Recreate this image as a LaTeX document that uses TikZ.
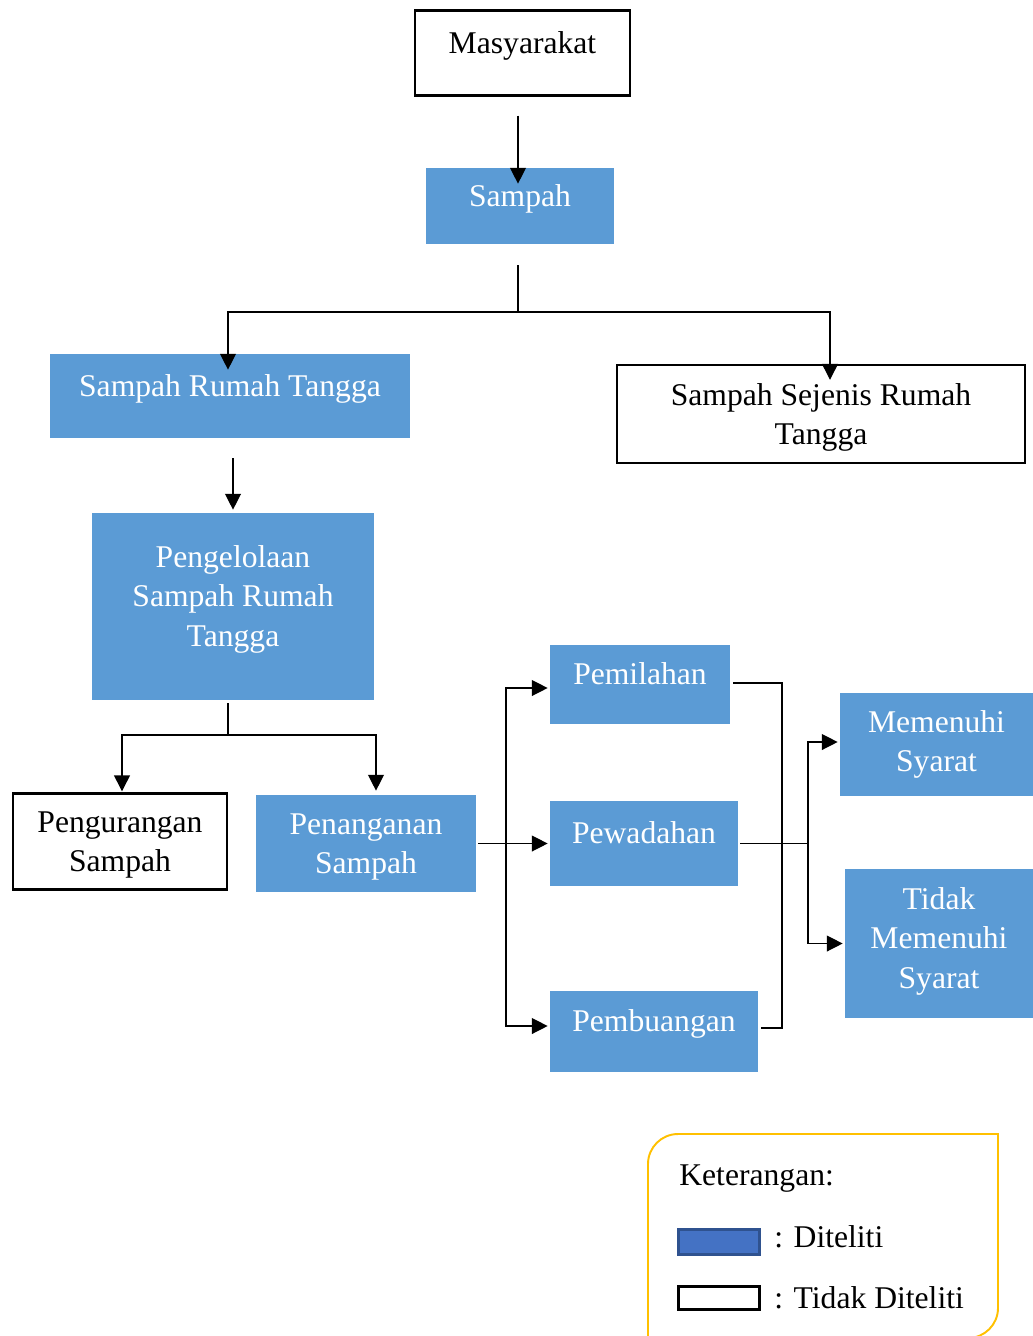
\documentclass[tikz,border=0pt]{standalone}
\usepackage{fontspec}
\setmainfont{Liberation Serif}
\usetikzlibrary{arrows.meta, positioning}
\definecolor{diteliti}{HTML}{5B9BD5}
\definecolor{legblue}{HTML}{4472C4}
\definecolor{legblueline}{HTML}{2F528F}
\definecolor{legline}{HTML}{FFC000}

\begin{document}
\begin{tikzpicture}[x=0.02cm, y=-0.02cm,
        every node/.style={font=\fontsize{18}{22.5}\selectfont, inner sep=0pt, align=center},
        blok/.style={fill=diteliti, text=white},
        polos/.style={draw, line width=1.4pt, fill=white},
        satu/.style={text height=12pt, text depth=12pt},
        conn/.style={line width=0.75pt},
        arr/.style={conn, -{Triangle[length=9pt, width=9pt]}}]
    \useasboundingbox (0,0) rectangle (1033,1336);

    % kotak-kotak
    \node[polos, satu, minimum width=4.3cm, minimum height=1.7cm] (masy) at (522.5,53) {Masyarakat};
    \node[blok, satu, minimum width=3.76cm, minimum height=1.52cm] (sampah) at (520,206) {Sampah};
    \node[blok, satu, minimum width=7.2cm, minimum height=1.68cm] (srt) at (230,396) {Sampah Rumah Tangga};
    \node[polos, text depth=0pt, minimum width=8.16cm, minimum height=1.96cm] (ssrt) at (821,414) {Sampah Sejenis Rumah\\Tangga};
    \node[blok, text depth=12pt, minimum width=5.64cm, minimum height=3.74cm] (pengel) at (233,606.5) {Pengelolaan\\Sampah Rumah\\Tangga};
    \node[polos, text depth=0pt, minimum width=4.28cm, minimum height=1.92cm] (kurang) at (120,841.5) {Pengurangan\\Sampah};
    \node[blok, text depth=0pt, minimum width=4.4cm, minimum height=1.94cm] (tangani) at (366,843.5) {Penanganan\\Sampah};
    \node[blok, satu, minimum width=3.6cm, minimum height=1.58cm] (pilah) at (640,684.5) {Pemilahan};
    \node[blok, satu, minimum width=3.76cm, minimum height=1.7cm] (wadah) at (644,843.5) {Pewadahan};
    \node[blok, satu, minimum width=4.16cm, minimum height=1.62cm] (buang) at (654,1031.5) {Pembuangan};
    \node[blok, text depth=4pt, minimum width=3.86cm, minimum height=2.06cm] (penuh) at (936.5,744.5) {Memenuhi\\Syarat};
    \node[blok, text depth=6.4pt, minimum width=3.76cm, minimum height=2.98cm] (tidak) at (939,943.5) {Tidak\\Memenuhi\\Syarat};

    % titik cabang
    \coordinate (j1) at (518,312);
    \coordinate (j2) at (228,735);
    \coordinate (j3) at (506,843.5);
    \coordinate (j4) at (782,843.5);
    \coordinate (j5) at (808,843.5);

    % garis penghubung
    \draw[arr] ([yshift=-0.38cm]masy.south -| j1) -- ([yshift=-0.32cm]sampah.north -| j1);
    \draw[conn] ([yshift=-0.42cm]sampah.south -| j1) -- (j1);
    \draw[arr] (j1) -| ([yshift=-0.32cm]srt.north -| j2);
    \draw[arr] (j1) -| ([xshift=0.18cm, yshift=-0.32cm]ssrt.north);
    \draw[arr] ([yshift=-0.4cm]srt.south -| pengel.north) -- ([yshift=0.06cm]pengel.north);
    \draw[conn] ([yshift=-0.06cm]pengel.south -| j2) -- (j2);
    \draw[arr] (j2) -| ([xshift=0.04cm, yshift=0.02cm]kurang.north);
    \draw[arr] (j2) -| ([xshift=0.2cm, yshift=0.08cm]tangani.north);
    \draw[conn] ([xshift=0.04cm]tangani.east) -- (j3);
    \draw[arr] (j3) |- ([xshift=-0.04cm, yshift=-0.07cm]pilah.west);
    \draw[arr] (j3) -- ([xshift=-0.04cm]wadah.west);
    \draw[arr] (j3) |- ([xshift=-0.04cm, yshift=0.11cm]buang.west);
    \draw[conn] ([xshift=0.06cm, yshift=0.03cm]pilah.east) -| (j4) |- ([xshift=0.06cm, yshift=0.07cm]buang.east);
    \draw[conn] ([xshift=0.04cm]wadah.east) -- (j5);
    \draw[arr] (j5) |- ([xshift=-0.04cm, yshift=0.05cm]penuh.west);
    \draw[arr] (j5) |- ([xshift=-0.04cm]tidak.west);

    % keterangan
    \draw[legline, line width=1.1pt] (648,1340) -- (648,1164) arc[start angle=180, end angle=90, radius=0.6cm]
        -- (998,1134) -- (998,1308) arc[start angle=0, end angle=-90, radius=0.6cm] -- (648,1338);
    \node[anchor=base west] (ket) at (679,1185) {Keterangan:};
    \node[fill=legblue, draw=legblueline, line width=1.2pt, minimum width=1.62cm, minimum height=0.5cm] (sw1) at (719,1242) {};
    \node[anchor=base west] (dit) at (774,1247) {: Diteliti};
    \node[draw, fill=white, line width=1.3pt, minimum width=1.62cm, minimum height=0.46cm] (sw2) at (719,1298) {};
    \node[anchor=base west] (tdit) at (774,1308) {: Tidak Diteliti};
\end{tikzpicture}
\end{document}
